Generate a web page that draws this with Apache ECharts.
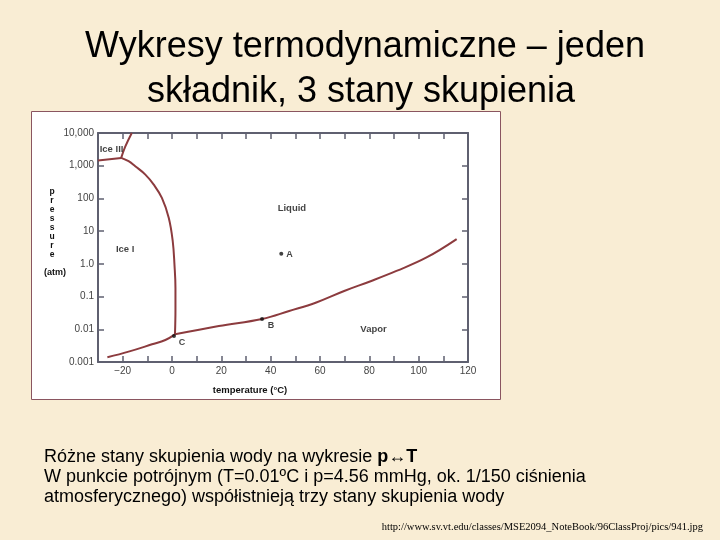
<!DOCTYPE html>
<html><head><meta charset="utf-8">
<script src="https://cdn.jsdelivr.net/npm/echarts@6/dist/echarts.min.js"></script>
<style>html,body{margin:0;padding:0;background:#F9EDD4}#c{width:720px;height:540px}</style>
</head><body><div id="c"></div>
<script>
// ---- text ----
const titleLines = ['Wykresy termodynamiczne – jeden', 'składnik, 3 stany skupienia'];
const captionLine1 = 'Różne stany skupienia wody na wykresie ';
const captionLine1Bold = 'p↔T';
const captionLine2 = 'W punkcie potrójnym (T=0.01ºC i p=4.56 mmHg, ok. 1/150 ciśnienia';
const captionLine3 = 'atmosferycznego) współistnieją trzy stany skupienia wody';
const sourceUrl = 'http://www.sv.vt.edu/classes/MSE2094_NoteBook/96ClassProj/pics/941.jpg';
const yAxisTitleLetters = ['p','r','e','s','s','u','r','e'];
const yAxisUnit = '(atm)';
const xAxisTitle = 'temperature (°C)';

// ---- ticks ----
const xTickValues = [-20, 0, 20, 40, 60, 80, 100, 120];
const xTickLabels = ['−20', '0', '20', '40', '60', '80', '100', '120'];
const yTickLabels = ['0.001', '0.01', '0.1', '1.0', '10', '100', '1,000', '10,000'];

// ---- phase boundaries (T in °C, p in atm) ----
const sublimationT = [-26.2, -17.6, -8.1, -2.7, 1.2];
const sublimationP = [0.00139, 0.00207, 0.00347, 0.00471, 0.0070];
const vaporizationT = [1.2, 19.0, 36.5, 47.5, 58.5, 69.8, 80.8, 91.0, 103.2, 115.4];
const vaporizationP = [0.0070, 0.0126, 0.0207, 0.0363, 0.0661, 0.148, 0.300, 0.607, 1.57, 5.73];
const meltingT = [1.2, 1.4, 1.4, 1.0, 0.3, -1.3, -4.1, -7.4, -10.8, -14.9, -17.6, -20.6];
const meltingP = [0.0070, 0.039, 0.183, 0.946, 4.91, 25.3, 103.5, 264, 535, 966, 1374, 1734];
const iceIIIceIT = [-30, -20.6];
const iceIIIceIP = [1432, 1734];
const iceIIILiquidT = [-20.6, -19.0, -16.3];
const iceIIILiquidP = [1734, 3760, 10000];

// ---- marked points ----
const pointNames = ['A', 'B', 'C'];
const pointT = [44.3, 36.5, 0.8];
const pointP = [2.05, 0.0207, 0.0062];

// ---- region names ----
const regionNames = ['Ice III', 'Ice I', 'Liquid', 'Vapor'];
const regionT = [-24.5, -19.0, 48.6, 81.7];
const regionP = [3240, 2.7, 48, 0.0098];

// ---- build ----
const pair = (xs, ys) => xs.map((x, i) => [x, ys[i]]);
const curveColor = '#8c3b3e';
const axisColor = '#5f6070';
const labelFont = 'Liberation Sans, Arial, sans-serif';
const pointLabelStyle = {
  A: { position: 'right', distance: 3, offset: [0, 1] },
  B: { position: 'inside', offset: [9, 7] },
  C: { position: 'inside', offset: [8, 6] }
};
const curve = (name, xs, ys) => ({
  name, type: 'line', xAxisIndex: 0, yAxisIndex: 0,
  data: pair(xs, ys), smooth: 0.4, symbol: 'none', showSymbol: false,
  lineStyle: { color: curveColor, width: 2 }, z: 3, silent: true
});

const chart = echarts.init(document.getElementById('c'), null, { renderer: 'canvas' });
const commonX = {
  type: 'value', min: -30, max: 120, interval: 10,
  axisLine: { show: true, onZero: false, lineStyle: { color: axisColor, width: 2 } },
  axisTick: { show: true, inside: true, length: 6, lineStyle: { color: axisColor, width: 1.5 } },
  splitLine: { show: false }
};
const commonY = {
  type: 'log', logBase: 10, min: 0.001, max: 10000, splitNumber: 7,
  axisLine: { show: true, onZero: false, lineStyle: { color: axisColor, width: 2 } },
  axisTick: { show: true, inside: true, length: 6, lineStyle: { color: axisColor, width: 1.5 } },
  splitLine: { show: false }, minorTick: { show: false }
};

const option = {
  backgroundColor: '#F9EDD4',
  animation: false,
  grid: { left: 98, top: 133, right: 252, bottom: 178, containLabel: false },
  xAxis: [
    Object.assign({}, commonX, {
      position: 'bottom',
      axisLabel: {
        show: true, margin: 4, color: '#444', fontSize: 10, fontFamily: labelFont,
        formatter: v => { const i = xTickValues.indexOf(Math.round(v)); return i >= 0 ? xTickLabels[i] : ''; }
      }
    }),
    Object.assign({}, commonX, { position: 'top', axisLabel: { show: false } })
  ],
  yAxis: [
    Object.assign({}, commonY, {
      position: 'left',
      axisLabel: {
        show: true, margin: 4, color: '#444', fontSize: 10, fontFamily: labelFont,
        formatter: v => yTickLabels[Math.round(Math.log10(v)) + 3] || ''
      }
    }),
    Object.assign({}, commonY, { position: 'right', axisLabel: { show: false } })
  ],
  series: [
    curve('sublimation', sublimationT, sublimationP),
    curve('vaporization', vaporizationT, vaporizationP),
    curve('melting', meltingT, meltingP),
    curve('iceIII-iceI', iceIIIceIT, iceIIIceIP),
    curve('iceIII-liquid', iceIIILiquidT, iceIIILiquidP),
    {
      name: 'points', type: 'scatter', symbolSize: 4, z: 5, silent: true,
      itemStyle: { color: '#111' },
      data: pointNames.map((n, i) => ({
        name: n, value: [pointT[i], pointP[i]],
        label: Object.assign({
          show: true, formatter: n, color: '#111', fontWeight: 'bold', fontSize: 9, fontFamily: labelFont
        }, pointLabelStyle[n])
      }))
    },
    {
      name: 'regions', type: 'scatter', symbolSize: 0, z: 5, silent: true,
      itemStyle: { color: 'rgba(0,0,0,0)' },
      label: { show: true, position: 'inside', formatter: p => p.name, color: '#111', fontWeight: 'bold', fontSize: 9.5, fontFamily: labelFont },
      data: regionNames.map((n, i) => ({ name: n, value: [regionT[i], regionP[i]] }))
    }
  ],
  graphic: [
    { type: 'rect', z: -10, shape: { x: 31.5, y: 111.5, width: 469, height: 288 },
      style: { fill: '#ffffff', stroke: '#8a5560', lineWidth: 1 } },
    { type: 'text', x: 365, y: 47, z: 10,
      style: { text: titleLines[0], fill: '#000', font: '36px "Liberation Sans", Arial, sans-serif', textAlign: 'center', textVerticalAlign: 'middle' } },
    { type: 'text', x: 361, y: 92, z: 10,
      style: { text: titleLines[1], fill: '#000', font: '36px "Liberation Sans", Arial, sans-serif', textAlign: 'center', textVerticalAlign: 'middle' } },
    { type: 'text', x: 52, y: 187, z: 10,
      style: { text: yAxisTitleLetters.join('\n'), fill: '#111', fontFamily: labelFont, fontSize: 8.5, fontWeight: 'bold', lineHeight: 9, textAlign: 'center', textVerticalAlign: 'top' } },
    { type: 'text', x: 55, y: 273, z: 10,
      style: { text: yAxisUnit, fill: '#111', fontFamily: labelFont, fontSize: 9, fontWeight: 'bold', textAlign: 'center', textVerticalAlign: 'middle' } },
    { type: 'text', x: 250, y: 390, z: 10,
      style: { text: xAxisTitle, fill: '#111', fontFamily: labelFont, fontSize: 9.5, fontWeight: 'bold', textAlign: 'center', textVerticalAlign: 'middle' } },
    { type: 'text', x: 44, y: 457, z: 10,
      style: { text: '{n|' + captionLine1 + '}{b|' + captionLine1Bold + '}', textVerticalAlign: 'middle',
        rich: { n: { fontFamily: labelFont, fontSize: 18, fill: '#000', color: '#000' }, b: { fontFamily: labelFont, fontSize: 18, fontWeight: 'bold', fill: '#000', color: '#000' } } } },
    { type: 'text', x: 44, y: 477, z: 10,
      style: { text: captionLine2, fill: '#000', font: '18px "Liberation Sans", Arial, sans-serif', textVerticalAlign: 'middle' } },
    { type: 'text', x: 44, y: 497, z: 10,
      style: { text: captionLine3, fill: '#000', font: '18px "Liberation Sans", Arial, sans-serif', textVerticalAlign: 'middle' } },
    { type: 'text', x: 703, y: 527, z: 10,
      style: { text: sourceUrl, fill: '#000', font: '10.5px "Liberation Serif", "Times New Roman", serif', textAlign: 'right', textVerticalAlign: 'middle' } }
  ]
};
chart.setOption(option);
</script></body></html>
